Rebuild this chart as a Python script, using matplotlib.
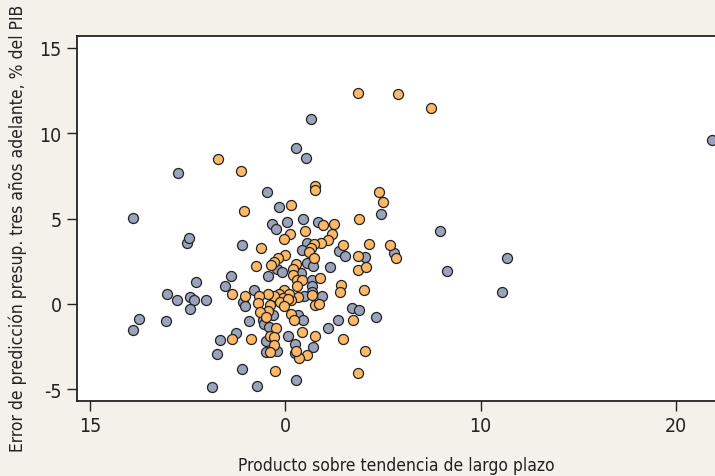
import numpy as np
import matplotlib
matplotlib.use("Agg")
import matplotlib.pyplot as plt

# grupo gris
gris_x = [1.32, 0.53, 1.04, -5.51, -0.92, 4.88, -0.32, -7.80, -0.68, -0.48,
          0.07, 0.92, 1.66, 21.83, 7.94, 5.58, 11.34, 8.28, 11.08, 1.11,
          0.86, 1.10, 1.42, -2.22, -5.02, -4.92, -0.44, -0.18, -0.89, 0.79,
          1.38, 1.38, 1.38, 2.27, 2.75, 3.04, 4.08, 1.89, 0.94, -1.59,
          -2.18, -2.06, -0.65, -1.16, -1.08, -0.83, 0.65, 0.91, 2.20, 2.70,
          3.43, 3.77, 4.63, 1.43, 0.50, 0.50, 0.15, 0.53, -1.45, -2.23,
          -3.75, -3.50, -2.54, -3.34, -1.86, -1.00, -0.99, -0.44, -3.09, -2.78,
          -4.59, -6.04, -5.53, -4.89, -4.67, -4.04, -4.89, -7.48, -7.80, -6.11]
gris_y = [10.84, 9.13, 8.53, 7.69, 6.57, 5.28, 5.70, 5.03, 4.68, 4.38,
          4.79, 4.97, 4.81, 9.62, 4.25, 2.99, 2.70, 1.92, 0.67, 3.56,
          3.17, 2.37, 2.23, 3.43, 3.55, 3.87, 2.04, 1.88, 1.63, 1.80,
          1.38, 1.02, 0.67, 2.16, 3.09, 2.82, 2.74, 0.44, 0.44, 0.81,
          0.10, -0.15, -0.66, -0.95, -1.19, -1.35, -0.66, -0.95, -1.44, -0.94,
          -0.25, -0.37, -0.79, -2.55, -2.36, -2.89, -1.89, -4.49, -4.81, -3.84,
          -4.87, -2.96, -1.70, -2.11, -1.03, -2.18, -2.81, -2.77, 1.04, 1.65,
          1.28, 0.57, 0.22, 0.38, 0.24, 0.22, -0.31, -0.91, -1.52, -1.01]

# grupo naranja
nar_x = [3.72, 5.77, 7.46, -3.45, -2.28, 1.51, 1.54, 4.80, 4.99, 0.29,
         -2.11, 3.76, 1.95, 2.48, 5.38, 5.65, 0.26, -0.08, 0.99, 2.38,
         2.20, 1.83, 1.48, 1.32, 1.21, 1.45, -1.23, -0.03, -0.37, -0.58,
         -0.72, -1.48, 0.56, 0.41, 0.41, 0.60, 0.87, 0.60, 1.78, 2.97,
         3.74, 4.29, 3.72, 4.15, 2.85, 2.79, 4.04, 1.38, 0.67, 0.29,
         -0.08, 0.19, -0.34, -0.13, -0.56, -0.90, -0.26, 0.14, -0.07, -1.36,
         -2.08, -1.38, -0.78, -0.89, -1.28, -1.00, -0.49, 0.28, 0.43, 1.52,
         1.74, 3.47, 0.84, 1.52, 1.13, 0.70, 0.55, 2.97, 4.07, 3.74,
         -0.51, -2.73, -1.76, -0.78, -0.56, -0.56, -0.78, -2.73]
nar_y = [12.36, 12.28, 11.50, 8.49, 7.77, 6.92, 6.67, 6.54, 5.97, 5.81,
         5.44, 4.97, 4.60, 4.68, 3.45, 2.68, 4.07, 3.78, 4.25, 4.11,
         3.72, 3.56, 3.52, 3.25, 3.02, 2.68, 3.29, 2.86, 2.70, 2.43,
         2.29, 2.21, 2.33, 2.04, 1.69, 1.39, 1.39, 1.06, 1.51, 3.45,
         2.78, 3.50, 1.96, 2.16, 1.08, 0.69, 0.82, 0.51, 0.38, 0.24,
         0.82, 0.59, 0.57, 0.35, 0.44, 0.57, 0.12, 0.28, -0.13, 0.44,
         0.44, 0.03, -0.07, -0.41, -0.47, -0.78, -1.40, -0.62, -0.94, -0.07,
         -0.01, -0.97, -1.67, -1.89, -2.99, -3.16, -2.75, -2.05, -2.79, -4.08,
         -3.94, -2.05, -2.05, -1.89, -1.95, -2.40, -2.81, 0.57]

xticks = [-10, 0, 10, 20]
xtick_labels = ["15", "0", "10", "20"]
yticks = [-5, 0, 5, 10, 15]
ytick_labels = ["-5", "0", "5", "10", "15"]

plt.rcParams['font.family'] = ['DejaVu Sans']
plt.rcParams['font.stretch'] = 'condensed'
fondo = "#f4f1ea"

fig = plt.figure(figsize=(7.15, 4.77), dpi=100, facecolor=fondo)
ax = fig.add_axes([77/715, 75/477, 657.6/715, 365.3/477])
ax.set_facecolor("white")

ax.scatter(gris_x, gris_y, s=52, c="#9ba3bc", edgecolors="#222222", linewidths=0.9, zorder=3)
ax.scatter(nar_x, nar_y, s=52, c="#fdb968", edgecolors="#222222", linewidths=0.9, zorder=4)

ax.set_xlim(-10.67, 23.0)
ax.set_ylim(-5.70, 15.72)
ax.set_xticks(xticks)
ax.set_xticklabels(xtick_labels)
ax.set_yticks(yticks)
ax.set_yticklabels(ytick_labels)
ax.tick_params(direction="out", length=7, width=1.0, labelsize=14, colors="#222222", pad=4)
for s in ax.spines.values():
    s.set_linewidth(1.3)
    s.set_color("#222222")

ax.set_xlabel("Producto sobre tendencia de largo plazo", fontsize=12.5, color="#222222")
ax.set_ylabel("Error de predicción presup. tres años adelante, % del PIB", fontsize=12.5,
              color="#222222")
ax.xaxis.set_label_coords(0.485, -0.150)
ax.yaxis.set_label_coords(-0.076, 0.476)

fig.savefig("out.png", dpi=100, facecolor=fondo)
